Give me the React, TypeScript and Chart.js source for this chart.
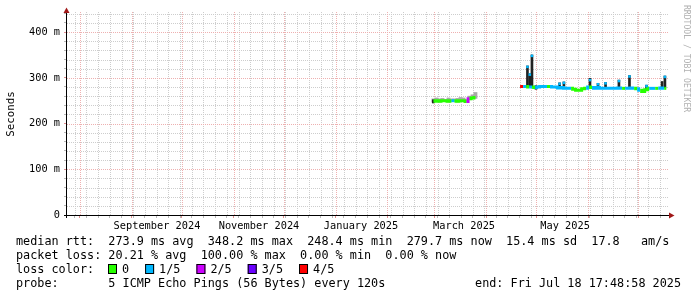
import React, { useEffect, useRef } from "react";
import { Chart, registerables } from "chart.js";

Chart.register(...registerables);

// ---------- axes (x = days since 2024-01-01 00:00 UTC, y = milliseconds) ----------
const X_START = 205.4;
const X_END = 564.742; // Fri Jul 18 17:48:58 2025
const Y_MAX = 444;
const MONTH_STARTS = [213, 244, 274, 305, 335, 366, 397, 425, 456, 486, 517, 547];
const FIRST_MONDAY = 210; // Mon Jul 29 2024
const MONTH_LABELS = ["September 2024", "November 2024", "January 2025", "March 2025", "May 2025"];
const MONTH_LABEL_DAYS = [259.2, 320.2, 381.2, 442.8, 503.2];
const Y_MINOR_STEP = 20;
const Y_MAJOR_STEP = 100;

// ---------- segment 1 (early March 2025) ----------
const seg1Days = [424.5, 426.3, 428.1, 429.9, 431.7, 433.5, 435.3, 437.1, 438.9, 440.7, 442.5, 444.3, 446.1, 447.9, 449.6];
const seg1Median = [249, 250, 249, 250, 250, 249, 250, 250, 249, 250, 250, 248, 254, 256, 257];
const seg1Loss = [0, 0, 0, 0, 0, 0, 1, 0, 0, 0, 0, 2, 0, 0, 1];
const seg1SmokeLow = [247, 248, 247, 248, 248, 247, 248, 248, 247, 248, 248, 246, 252, 254, 255];
const seg1SmokeHigh = [254, 256, 254, 255, 253, 256, 254, 254, 255, 257, 256, 252, 260, 263, 268];

// ---------- segment 2 (late April - July 2025) ----------
const seg2Days = [476.3, 478.1, 479.9, 481.7, 483.5, 485.3, 487.1, 488.9, 490.6, 492.4, 494.2, 496.0, 497.8, 499.6, 501.4, 503.2, 505.0, 506.8, 508.6, 510.4, 512.2, 514.0, 515.8, 517.6, 519.3, 521.1, 522.9, 524.7, 526.5, 528.3, 530.1, 531.9, 533.7, 535.5, 537.3, 539.1, 540.9, 542.7, 544.5, 546.3, 548.1, 549.9, 551.7, 553.5, 555.3, 557.1, 558.9, 560.7, 562.5, 563.7];
const seg2Median = [281, 281, 281, 280, 280, 279, 280, 281, 281, 281, 281, 280, 280, 278, 279, 277, 277, 277, 275, 273, 273, 276, 277, 280, 279, 277, 279, 277, 277, 277, 277, 277, 277, 278, 277, 277, 277, 278, 277, 276, 273, 270, 274, 277, 277, 277, 277, 278, 277, 277];
const seg2Loss = [4, 1, 0, 1, 0, 1, 1, 1, 1, 0, 1, 1, 1, 1, 1, 1, 1, 0, 0, 0, 0, 0, 1, 0, 1, 1, 1, 1, 1, 1, 1, 1, 1, 1, 0, 1, 1, 1, 0, 1, 0, 0, 0, 1, 1, 0, 1, 1, 0, 0];

// ---------- dark smoke spikes ----------
const spikeDays = [424.4, 480.7, 482.1, 483.4, 485.8, 499.9, 502.5, 518.1, 522.9, 527.4, 535.4, 541.7, 551.9, 561.2, 562.9];
const spikeLow = [245, 280, 280, 280, 275, 278, 278, 280, 279, 277, 277, 277, 274, 278, 278];
const spikeHigh = [252, 326, 309, 350, 283, 289, 291, 299, 288, 290, 295, 305, 284, 292, 304];
// median values at spike columns
const capDays = [480.7, 482.1, 483.4, 499.9, 502.5, 518.1, 522.9, 527.4, 535.4, 541.7, 551.9, 562.9];
const capMedian = [324, 307, 348, 287, 289, 295, 286, 288, 293, 303, 282, 302];
const capLoss = [1, 1, 1, 1, 1, 1, 1, 1, 1, 1, 1, 1];

// ---------- legend ----------
const LOSS_COLORS = ["#26ff00", "#00b8ff", "#cc00ff", "#6a00ff", "#ff0000"];
const LOSS_LABELS = ["0", "1/5", "2/5", "3/5", "4/5"];
const RTT_LINE = "median rtt:  273.9 ms avg  348.2 ms max  248.4 ms min  279.7 ms now  15.4 ms sd  17.8   am/s";
const LOSS_LINE = "packet loss: 20.21 % avg  100.00 % max  0.00 % min  0.00 % now";
const PROBE_LINE = "probe:       5 ICMP Echo Pings (56 Bytes) every 120s";
const END_LINE = "end: Fri Jul 18 17:48:58 2025";
const WATERMARK = "RRDTOOL / TOBI OETIKER";
const Y_TITLE = "Seconds";

const MONO = "'DejaVu Sans Mono', monospace";
const DOT_MINOR = "#cdcdcd";
const DOT_MAJOR = "#eeb0b0";
const TICK_MINOR = "#b8b8b8";
const TICK_MAJOR = "#e09090";
const ARROW = "#a01818";

type Tick = { value: number; kind: string; text?: string };

function buildXTicks(): Tick[] {
  const t: Tick[] = [];
  for (let d = FIRST_MONDAY; d <= X_END; d += 7) if (d > X_START) t.push({ value: d, kind: "minor" });
  MONTH_STARTS.forEach((d) => t.push({ value: d, kind: "major" }));
  MONTH_LABEL_DAYS.forEach((d, i) => t.push({ value: d, kind: "label", text: MONTH_LABELS[i] }));
  return t.sort((a, b) => a.value - b.value);
}
function buildYTicks(): Tick[] {
  const t: Tick[] = [];
  for (let v = 0; v <= Y_MAX; v += Y_MINOR_STEP)
    t.push({ value: v, kind: v % Y_MAJOR_STEP === 0 ? "major" : "minor", text: v % Y_MAJOR_STEP === 0 ? (v === 0 ? "0" : `${v} m`) : "" });
  return t;
}

const tickColor = (c: any) => (c.tick?.kind === "label" ? "rgba(0,0,0,0)" : c.tick?.kind === "major" ? TICK_MAJOR : TICK_MINOR);
const tickWidth = (c: any) => (c.tick?.kind === "label" ? 0 : 1);

// dotted RRDtool-style grid, positioned through the chart's own scales
const dottedGrid = {
  id: "dottedGrid",
  beforeDatasetsDraw(chart: any) {
    const { ctx, chartArea: a, scales } = chart;
    ctx.save();
    const top = Math.round(a.top);
    const bottom = Math.round(a.bottom);
    const left = Math.round(a.left);
    const right = Math.round(a.right);
    const draw = (kind: string) => {
      ctx.fillStyle = kind === "major" ? DOT_MAJOR : DOT_MINOR;
      scales.y.ticks.forEach((t: any) => {
        if (t.kind !== kind || t.value === 0) return;
        const py = Math.round(scales.y.getPixelForValue(t.value));
        for (let x = left; x < right; x += 2) ctx.fillRect(x, py, 1, 1);
      });
      scales.x.ticks.forEach((t: any) => {
        if (t.kind !== kind) return;
        const px = Math.round(scales.x.getPixelForValue(t.value));
        for (let y = top; y < bottom; y += 2) ctx.fillRect(px, y, 1, 1);
      });
    };
    draw("minor");
    draw("major");
    ctx.restore();
  },
};

const decor = {
  id: "rrdDecor",
  afterDraw(chart: any) {
    const { ctx, chartArea: a } = chart;
    ctx.save();
    ctx.setLineDash([]);
    ctx.strokeStyle = "#000";
    ctx.lineWidth = 1;
    ctx.beginPath();
    ctx.moveTo(a.left - 3, a.bottom + 0.5);
    ctx.lineTo(a.right + 2, a.bottom + 0.5);
    ctx.moveTo(a.left - 0.5, a.bottom + 3);
    ctx.lineTo(a.left - 0.5, a.top);
    ctx.stroke();
    ctx.fillStyle = ARROW;
    ctx.beginPath();
    ctx.moveTo(a.right + 1, a.bottom - 2.5);
    ctx.lineTo(a.right + 6.5, a.bottom + 0.5);
    ctx.lineTo(a.right + 1, a.bottom + 3.5);
    ctx.closePath();
    ctx.fill();
    ctx.beginPath();
    ctx.moveTo(a.left - 3.5, a.top + 1);
    ctx.lineTo(a.left - 0.5, a.top - 4.5);
    ctx.lineTo(a.left + 2.5, a.top + 1);
    ctx.closePath();
    ctx.fill();

    // y title
    ctx.fillStyle = "#000";
    ctx.save();
    ctx.translate(11, 114);
    ctx.rotate(-Math.PI / 2);
    ctx.font = `10.8px ${MONO}`;
    ctx.textAlign = "center";
    ctx.textBaseline = "middle";
    ctx.fillText(Y_TITLE, 0, 0);
    ctx.restore();

    // watermark
    ctx.save();
    ctx.translate(686, 5);
    ctx.rotate(Math.PI / 2);
    ctx.font = `8.1px ${MONO}`;
    ctx.fillStyle = "#b0b0b0";
    ctx.textAlign = "left";
    ctx.textBaseline = "middle";
    ctx.fillText(WATERMARK, 0, 0);
    ctx.restore();

    // legend text
    ctx.font = `11.8px ${MONO}`;
    ctx.textBaseline = "alphabetic";
    ctx.textAlign = "left";
    ctx.fillStyle = "#000";
    ctx.fillText(RTT_LINE, 16, 245);
    ctx.fillText(LOSS_LINE, 16, 259);
    ctx.fillText("loss color:", 16, 273);
    let x = 108;
    LOSS_LABELS.forEach((lab, i) => {
      ctx.fillStyle = LOSS_COLORS[i];
      ctx.fillRect(x, 264, 9, 10);
      ctx.strokeStyle = "#000";
      ctx.strokeRect(x + 0.5, 264.5, 8, 9);
      ctx.fillStyle = "#000";
      ctx.fillText(lab, x + 14, 273);
      x = x + 14 + ctx.measureText(lab).width + 16;
    });
    ctx.fillText(PROBE_LINE, 16, 287);
    ctx.textAlign = "right";
    ctx.fillText(END_LINE, 681, 287);
    ctx.restore();
  },
};

export default function App() {
  const ref = useRef<HTMLCanvasElement | null>(null);
  useEffect(() => {
    document.body.style.margin = "0";
    const canvas = ref.current;
    if (!canvas) return;
    const xTicks = buildXTicks();
    const yTicks = buildYTicks();

    const medianPts: any[] = [];
    const medianLoss: number[] = [];
    seg1Days.forEach((d, i) => { medianPts.push({ x: d, y: seg1Median[i] }); medianLoss.push(seg1Loss[i]); });
    medianPts.push({ x: (seg1Days[seg1Days.length - 1] + seg2Days[0]) / 2, y: null });
    medianLoss.push(0);
    seg2Days.forEach((d, i) => { medianPts.push({ x: d, y: seg2Median[i] }); medianLoss.push(seg2Loss[i]); });

    const chart = new Chart(canvas, {
      type: "line",
      data: {
        datasets: [
          {
            type: "line",
            label: "median loss",
            data: capDays.map((d, i) => ({ x: d, y: capMedian[i] })),
            showLine: false,
            pointStyle: "rect",
            pointRadius: 1.8,
            pointBorderWidth: 0,
            pointBackgroundColor: capLoss.map((l) => LOSS_COLORS[l]),
            order: 0,
          } as any,
          {
            type: "line",
            label: "median rtt",
            data: medianPts,
            borderWidth: 3,
            borderCapStyle: "butt",
            pointRadius: 0,
            stepped: "middle",
            spanGaps: false,
            borderColor: LOSS_COLORS[0],
            segment: { borderColor: (c: any) => LOSS_COLORS[medianLoss[c.p0DataIndex]] },
            order: 1,
          } as any,
          {
            type: "bar",
            label: "smoke spikes",
            data: spikeDays.map((d, i) => ({ x: d, y: [spikeLow[i], spikeHigh[i]] })),
            backgroundColor: "#222222",
            barThickness: 2,
            grouped: false,
            order: 2,
          } as any,
          {
            type: "bar",
            label: "smoke",
            data: seg1Days.map((d, i) => ({ x: d, y: [seg1SmokeLow[i], seg1SmokeHigh[i]] })),
            backgroundColor: "#a8a8a8",
            barThickness: 3.2,
            grouped: false,
            order: 3,
          } as any,
        ],
      },
      options: {
        responsive: false,
        animation: false,
        devicePixelRatio: 1,
        layout: { padding: { left: 0, right: 29, top: 12, bottom: 0 } },
        plugins: { legend: { display: false }, tooltip: { enabled: false }, title: { display: false } },
        scales: {
          x: {
            type: "linear",
            min: X_START,
            max: X_END,
            offset: false,
            afterBuildTicks: (s: any) => { s.ticks = xTicks.map((t) => ({ ...t })); },
            afterFit: (s: any) => { s.height = 82; },
            grid: { offset: false, drawOnChartArea: false, tickLength: 3, tickColor: tickColor, tickWidth: tickWidth, lineWidth: tickWidth },
            border: { display: false },
            ticks: {
              autoSkip: false, maxRotation: 0, minRotation: 0, padding: 2,
              font: { family: MONO, size: 10.3 }, color: "#000",
              callback: (_v: any, i: number, ts: any[]) => ts[i]?.text || "",
            },
          },
          y: {
            type: "linear",
            min: 0,
            max: Y_MAX,
            afterBuildTicks: (s: any) => { s.ticks = yTicks.map((t) => ({ ...t })); },
            afterFit: (s: any) => { s.width = 67; },
            grid: { drawOnChartArea: false, tickLength: 3, tickColor: tickColor, tickWidth: tickWidth, lineWidth: tickWidth },
            border: { display: false },
            ticks: {
              autoSkip: false, padding: 4,
              font: { family: MONO, size: 10.3 }, color: "#000",
              callback: (_v: any, i: number, ts: any[]) => ts[i]?.text || "",
            },
          },
        },
      } as any,
      plugins: [dottedGrid, decor],
    });
    return () => chart.destroy();
  }, []);
  return <canvas ref={ref} width={697} height={297} style={{ display: "block" }} />;
}
